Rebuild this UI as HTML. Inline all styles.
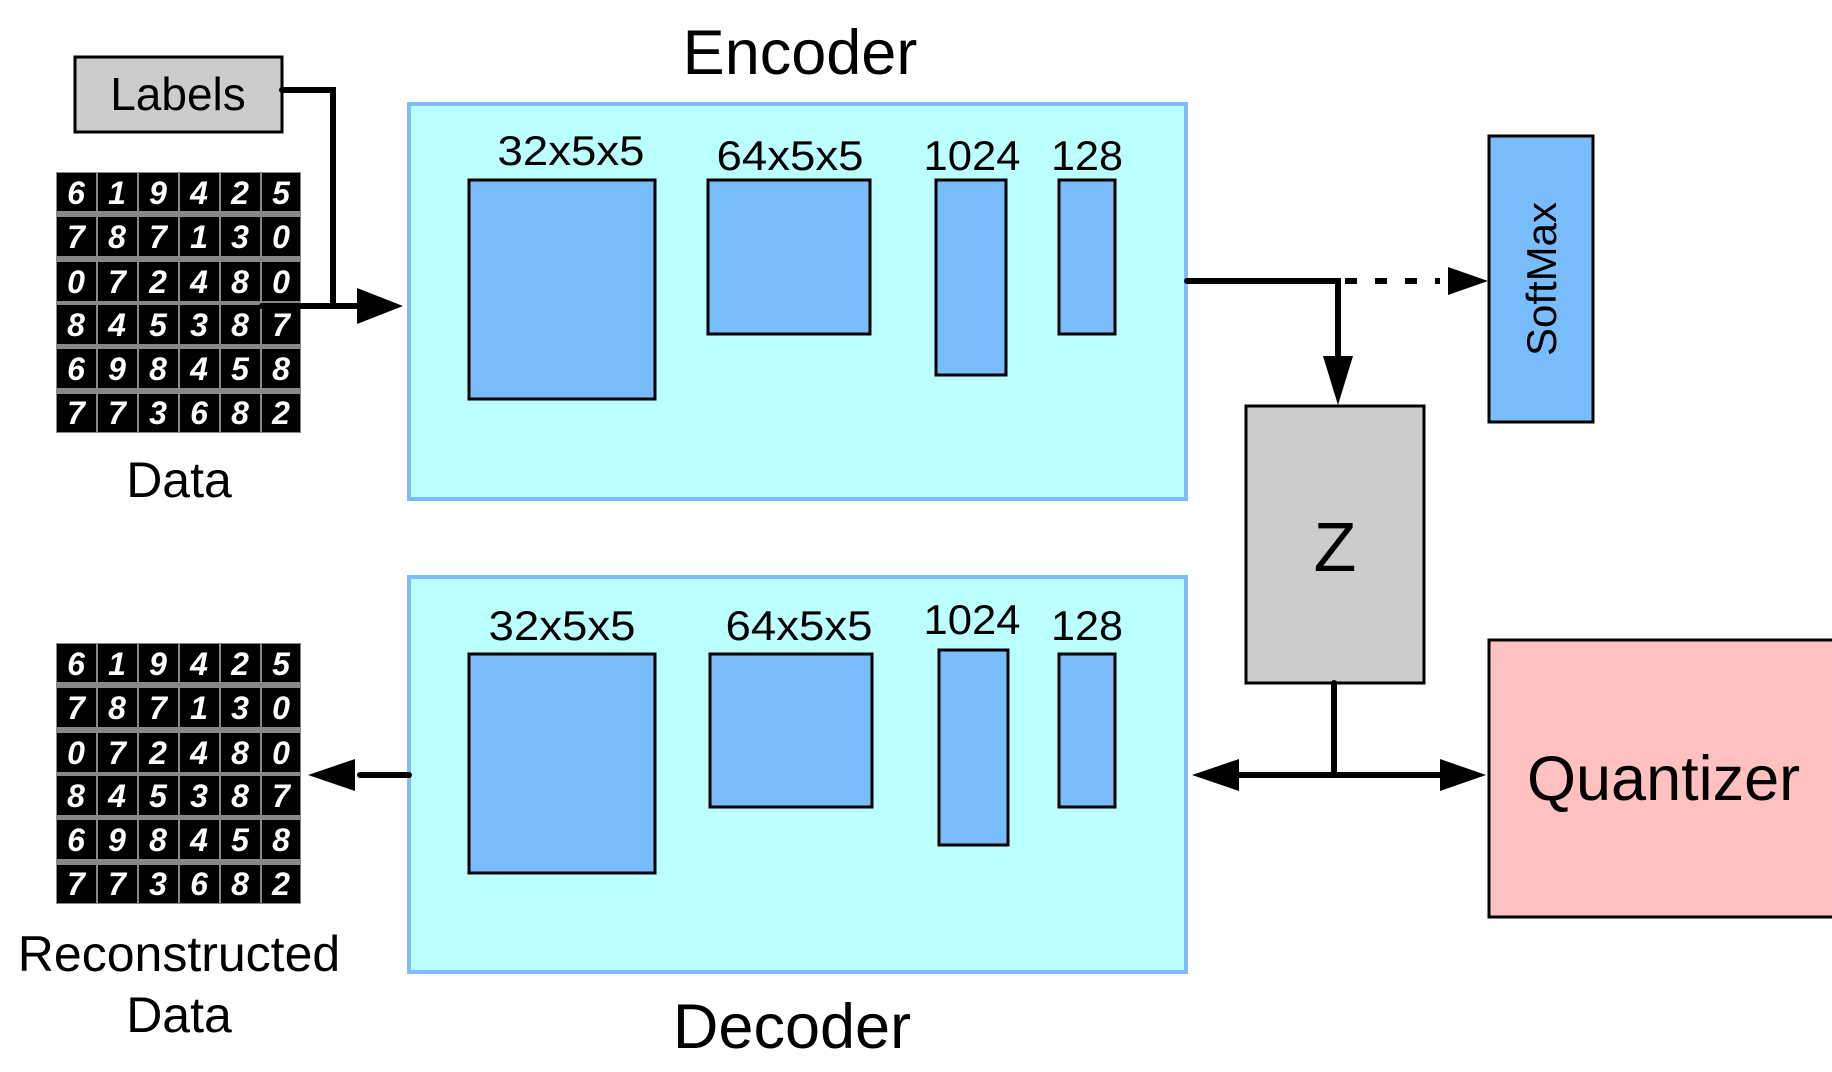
<!DOCTYPE html>
<html><head><meta charset="utf-8"><style>
html,body{margin:0;padding:0;background:#fff;width:1832px;height:1072px;overflow:hidden}
svg text{font-family:"Liberation Sans",sans-serif}
</style></head><body>
<svg width="1832" height="1072" viewBox="0 0 1832 1072" xmlns="http://www.w3.org/2000/svg">
<!-- Labels -->
<rect x="75" y="57" width="207" height="75" fill="#cccccc" stroke="#000" stroke-width="3"/>
<text x="178" y="110" font-size="46" text-anchor="middle">Labels</text>

<!-- Data grid -->
<rect x="56" y="172" width="245" height="261" fill="#888"/>
<g fill="#000">
<rect x="57" y="173" width="39" height="38"/><rect x="98" y="173" width="39" height="38"/><rect x="139" y="173" width="39" height="38"/><rect x="180" y="173" width="39" height="38"/><rect x="221" y="173" width="39" height="38"/><rect x="262" y="173" width="38" height="38"/>
<rect x="57" y="217" width="39" height="39"/><rect x="98" y="217" width="39" height="39"/><rect x="139" y="217" width="39" height="39"/><rect x="180" y="217" width="39" height="39"/><rect x="221" y="217" width="39" height="39"/><rect x="262" y="217" width="38" height="39"/>
<rect x="57" y="262" width="39" height="39"/><rect x="98" y="262" width="39" height="39"/><rect x="139" y="262" width="39" height="39"/><rect x="180" y="262" width="39" height="39"/><rect x="221" y="262" width="39" height="39"/><rect x="262" y="262" width="38" height="39"/>
<rect x="57" y="305" width="39" height="39"/><rect x="98" y="305" width="39" height="39"/><rect x="139" y="305" width="39" height="39"/><rect x="180" y="305" width="39" height="39"/><rect x="221" y="305" width="39" height="39"/><rect x="262" y="305" width="38" height="39"/>
<rect x="57" y="349" width="39" height="39"/><rect x="98" y="349" width="39" height="39"/><rect x="139" y="349" width="39" height="39"/><rect x="180" y="349" width="39" height="39"/><rect x="221" y="349" width="39" height="39"/><rect x="262" y="349" width="38" height="39"/>
<rect x="57" y="394" width="39" height="38"/><rect x="98" y="394" width="39" height="38"/><rect x="139" y="394" width="39" height="38"/><rect x="180" y="394" width="39" height="38"/><rect x="221" y="394" width="39" height="38"/><rect x="262" y="394" width="38" height="38"/>
</g>
<g fill="#fff" font-size="32" font-style="italic" font-weight="bold" text-anchor="middle">
<text x="76" y="204">6</text><text x="117" y="204">1</text><text x="158" y="204">9</text><text x="199" y="204">4</text><text x="240" y="204">2</text><text x="281" y="204">5</text>
<text x="76" y="248">7</text><text x="117" y="248">8</text><text x="158" y="248">7</text><text x="199" y="248">1</text><text x="240" y="248">3</text><text x="281" y="248">0</text>
<text x="76" y="293">0</text><text x="117" y="293">7</text><text x="158" y="293">2</text><text x="199" y="293">4</text><text x="240" y="293">8</text><text x="281" y="293">0</text>
<text x="76" y="336">8</text><text x="117" y="336">4</text><text x="158" y="336">5</text><text x="199" y="336">3</text><text x="240" y="336">8</text><text x="281" y="336">7</text>
<text x="76" y="380">6</text><text x="117" y="380">9</text><text x="158" y="380">8</text><text x="199" y="380">4</text><text x="240" y="380">5</text><text x="281" y="380">8</text>
<text x="76" y="424">7</text><text x="117" y="424">7</text><text x="158" y="424">3</text><text x="199" y="424">6</text><text x="240" y="424">8</text><text x="281" y="424">2</text>
</g>
<text x="179" y="497" font-size="50" text-anchor="middle">Data</text>

<!-- Recon grid -->
<rect x="56" y="643" width="245" height="261" fill="#888"/>
<g fill="#000">
<rect x="57" y="644" width="39" height="38"/><rect x="98" y="644" width="39" height="38"/><rect x="139" y="644" width="39" height="38"/><rect x="180" y="644" width="39" height="38"/><rect x="221" y="644" width="39" height="38"/><rect x="262" y="644" width="38" height="38"/>
<rect x="57" y="688" width="39" height="39"/><rect x="98" y="688" width="39" height="39"/><rect x="139" y="688" width="39" height="39"/><rect x="180" y="688" width="39" height="39"/><rect x="221" y="688" width="39" height="39"/><rect x="262" y="688" width="38" height="39"/>
<rect x="57" y="733" width="39" height="39"/><rect x="98" y="733" width="39" height="39"/><rect x="139" y="733" width="39" height="39"/><rect x="180" y="733" width="39" height="39"/><rect x="221" y="733" width="39" height="39"/><rect x="262" y="733" width="38" height="39"/>
<rect x="57" y="776" width="39" height="39"/><rect x="98" y="776" width="39" height="39"/><rect x="139" y="776" width="39" height="39"/><rect x="180" y="776" width="39" height="39"/><rect x="221" y="776" width="39" height="39"/><rect x="262" y="776" width="38" height="39"/>
<rect x="57" y="820" width="39" height="39"/><rect x="98" y="820" width="39" height="39"/><rect x="139" y="820" width="39" height="39"/><rect x="180" y="820" width="39" height="39"/><rect x="221" y="820" width="39" height="39"/><rect x="262" y="820" width="38" height="39"/>
<rect x="57" y="865" width="39" height="38"/><rect x="98" y="865" width="39" height="38"/><rect x="139" y="865" width="39" height="38"/><rect x="180" y="865" width="39" height="38"/><rect x="221" y="865" width="39" height="38"/><rect x="262" y="865" width="38" height="38"/>
</g>
<g fill="#fff" font-size="32" font-style="italic" font-weight="bold" text-anchor="middle">
<text x="76" y="675">6</text><text x="117" y="675">1</text><text x="158" y="675">9</text><text x="199" y="675">4</text><text x="240" y="675">2</text><text x="281" y="675">5</text>
<text x="76" y="719">7</text><text x="117" y="719">8</text><text x="158" y="719">7</text><text x="199" y="719">1</text><text x="240" y="719">3</text><text x="281" y="719">0</text>
<text x="76" y="764">0</text><text x="117" y="764">7</text><text x="158" y="764">2</text><text x="199" y="764">4</text><text x="240" y="764">8</text><text x="281" y="764">0</text>
<text x="76" y="807">8</text><text x="117" y="807">4</text><text x="158" y="807">5</text><text x="199" y="807">3</text><text x="240" y="807">8</text><text x="281" y="807">7</text>
<text x="76" y="851">6</text><text x="117" y="851">9</text><text x="158" y="851">8</text><text x="199" y="851">4</text><text x="240" y="851">5</text><text x="281" y="851">8</text>
<text x="76" y="895">7</text><text x="117" y="895">7</text><text x="158" y="895">3</text><text x="199" y="895">6</text><text x="240" y="895">8</text><text x="281" y="895">2</text>
</g>
<text x="179" y="971" font-size="50" text-anchor="middle">Reconstructed</text>
<text x="179" y="1032" font-size="50" text-anchor="middle">Data</text>

<!-- Encoder -->
<text x="800" y="74" font-size="63" text-anchor="middle">Encoder</text>
<rect x="409" y="104" width="777" height="395" fill="#bbffff" stroke="#7cbcff" stroke-width="4"/>
<g fill="#78bcfc" stroke="#000" stroke-width="3">
<rect x="469" y="180" width="186" height="219"/>
<rect x="708" y="180" width="162" height="154"/>
<rect x="936" y="180" width="70" height="195"/>
<rect x="1059" y="180" width="56" height="154"/>
</g>
<g font-size="42" text-anchor="middle">
<text x="571" y="165" textLength="147" lengthAdjust="spacingAndGlyphs">32x5x5</text>
<text x="790" y="170" textLength="147" lengthAdjust="spacingAndGlyphs">64x5x5</text>
<text x="972" y="170" textLength="97" lengthAdjust="spacingAndGlyphs">1024</text>
<text x="1087" y="170" textLength="72" lengthAdjust="spacingAndGlyphs">128</text>
</g>

<!-- Decoder -->
<rect x="409" y="577" width="777" height="395" fill="#bbffff" stroke="#7cbcff" stroke-width="4"/>
<g fill="#78bcfc" stroke="#000" stroke-width="3">
<rect x="469" y="654" width="186" height="219"/>
<rect x="710" y="654" width="162" height="153"/>
<rect x="939" y="650" width="69" height="195"/>
<rect x="1059" y="654" width="56" height="153"/>
</g>
<g font-size="42" text-anchor="middle">
<text x="562" y="640" textLength="147" lengthAdjust="spacingAndGlyphs">32x5x5</text>
<text x="799" y="640" textLength="147" lengthAdjust="spacingAndGlyphs">64x5x5</text>
<text x="972" y="634" textLength="97" lengthAdjust="spacingAndGlyphs">1024</text>
<text x="1087" y="640" textLength="72" lengthAdjust="spacingAndGlyphs">128</text>
</g>
<text x="792" y="1048" font-size="63" text-anchor="middle">Decoder</text>

<!-- SoftMax -->
<rect x="1489" y="136" width="104" height="286" fill="#78bcfc" stroke="#000" stroke-width="3"/>
<text transform="translate(1556,279) rotate(-90)" font-size="42" text-anchor="middle">SoftMax</text>

<!-- Z -->
<rect x="1246" y="406" width="178" height="277" fill="#cccccc" stroke="#000" stroke-width="3"/>
<text x="1335" y="571" font-size="70" text-anchor="middle">Z</text>

<!-- Quantizer -->
<rect x="1489" y="640" width="360" height="277" fill="#ffc0c0" stroke="#000" stroke-width="3"/>
<text x="1527" y="800" font-size="63">Quantizer</text>

<!-- connectors -->
<g stroke="#000" stroke-width="6" fill="none" stroke-linecap="round">
<polyline points="282,90 333,90 333,306"/>
<line x1="262" y1="306" x2="362" y2="306"/>
<polyline points="1187,281 1338,281 1338,365"/>
<line x1="1345" y1="281" x2="1440" y2="281" stroke-dasharray="12,18" stroke-linecap="butt"/>
<line x1="1334" y1="683" x2="1334" y2="775"/>
<line x1="1225" y1="775" x2="1455" y2="775"/>
<line x1="360" y1="775" x2="409" y2="775"/>
</g>
<g fill="#000">
<polygon points="357,288 403,306 357,324"/>
<polygon points="1323,356 1353,356 1338,405"/>
<polygon points="1448,267 1488,281 1448,295"/>
<polygon points="1239,759 1192,775 1239,791"/>
<polygon points="1440,759 1486,775 1440,791"/>
<polygon points="355,759 308,775 355,791"/>
</g>
</svg>
</body></html>
